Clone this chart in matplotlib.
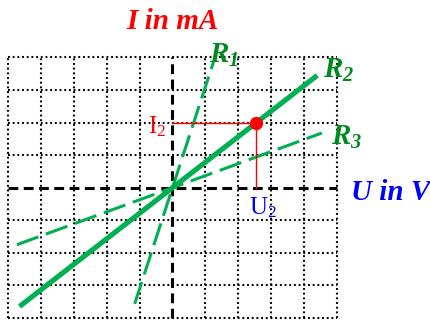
import matplotlib
matplotlib.use("Agg")
import matplotlib.pyplot as plt
import numpy as np

# Characteristic lines I = G * U for three resistors
r_names = ["R1", "R2", "R3"]
r_slopes = [3.1, 0.784, 0.37]          # mA per V
r_u_start = [-1.15, -4.65, -4.73]      # V
r_u_end = [1.25, 4.4, 4.54]            # V
r_styles = ["dashed", "solid", "dashed"]

# Operating point on R2
u2 = 2.55
i2 = 2.0

# Grid extent (in cells)
u_ticks = list(range(-5, 6))
i_ticks = list(range(-4, 5))

GREEN = "#00B050"
LABEL_GREEN = "#008A1E"
RED = "#FF0000"
BLUE = "#0000FF"

fig = plt.figure(figsize=(4.30, 3.22), dpi=100)
ax = fig.add_axes([0, 0, 1, 1])
ax.set_xlim(-5.243, 7.827)
ax.set_ylim(-4.123, 5.764)
ax.axis("off")

umin, umax = u_ticks[0], u_ticks[-1]
imin, imax = i_ticks[0], i_ticks[-1]

# dotted grid
dot = dict(color="black", lw=1.5, linestyle=(0, (0.9, 1.35)), zorder=1)
for u in u_ticks:
    if u != 0:
        ax.plot([u, u], [imin, imax], **dot)
for i in i_ticks:
    if i != 0:
        ax.plot([umin, umax], [i, i], **dot)

# dashed axes
axstyle = dict(color="black", lw=2.2, linestyle=(0, (3.2, 1.8)), zorder=2)
ax.plot([umin, umax], [0, 0], **axstyle)
ax.plot([0, 0], [imin, imax], **axstyle)

# resistor characteristics
for name, g, u0, u1, st in zip(r_names, r_slopes, r_u_start, r_u_end, r_styles):
    us = np.array([u0, u1])
    if st == "solid":
        ax.plot(us, g * us, color=GREEN, lw=3.7, solid_capstyle="butt", zorder=4)
    else:
        ax.plot(us, g * us, color=GREEN, lw=2.2, linestyle=(0, (7.5, 2.6)),
                dash_capstyle="butt", zorder=3)

# operating point and its projections
ax.plot([0, u2], [i2, i2], color=RED, lw=1.0, zorder=5)
ax.plot([u2, u2], [0, i2], color=RED, lw=1.0, zorder=5)
ax.plot([u2], [i2], "o", color=RED, ms=8.6, zorder=6)

serif = "Liberation Serif"
bi = dict(family=serif, fontweight="bold", fontstyle="italic")

ax.text(0.0, 5.09, "I in mA", color=RED, fontsize=21, ha="center", va="center", **bi)
ax.text(5.44, -0.15, "U in V", color=BLUE, fontsize=21, ha="left", va="center", **bi)

label_pos = {"R1": (1.12, 3.83), "R2": (4.56, 3.37), "R3": (4.82, 1.32)}
for name in r_names:
    x, y = label_pos[name]
    ax.text(x, y, r"$\mathregular{%s_%s}$" % (name[0], name[1]), color=LABEL_GREEN,
            fontsize=21, ha="left", va="baseline", **bi)

ax.text(-0.73, 1.66, r"$\mathregular{I_2}$", color=RED, fontsize=18,
        family=serif, ha="left", va="baseline")
ax.text(2.34, -0.83, r"$\mathregular{U_2}$", color=BLUE, fontsize=18,
        family=serif, ha="left", va="baseline")

fig.savefig("out.png", dpi=100)
